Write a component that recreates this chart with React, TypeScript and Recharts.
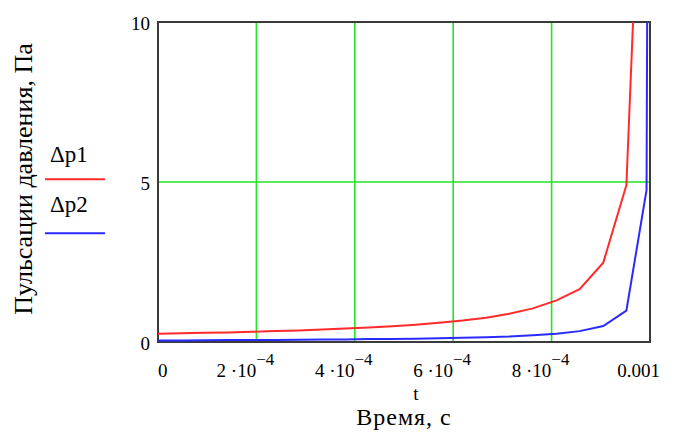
import React from 'react'
import {
  LineChart,
  Line,
  XAxis,
  YAxis,
  CartesianGrid,
  ReferenceArea,
  Legend,
  Label,
} from 'recharts'

const tP1 = [
  0, 0.0000476, 0.0000952, 0.000143, 0.00019, 0.000238, 0.000286, 0.000333,
  0.000381, 0.000429, 0.000476, 0.000524, 0.000571, 0.000619, 0.000667,
  0.000714, 0.000762, 0.00081, 0.000857, 0.000905, 0.000952, 0.001,
]
const p1 = [
  0.26, 0.27, 0.29, 0.3, 0.32, 0.34, 0.36, 0.39, 0.42, 0.45, 0.49, 0.54, 0.6,
  0.67, 0.76, 0.88, 1.05, 1.3, 1.65, 2.48, 4.9, 23,
]

const tP2 = [
  0, 0.0000476, 0.0000952, 0.000143, 0.00019, 0.000238, 0.000286, 0.000333,
  0.000381, 0.000429, 0.000476, 0.000524, 0.000571, 0.000619, 0.000667,
  0.000714, 0.000762, 0.00081, 0.000857, 0.000905, 0.000952, 0.000993, 0.001,
]
const p2 = [
  0.05, 0.05, 0.055, 0.06, 0.06, 0.065, 0.07, 0.075, 0.08, 0.09, 0.095, 0.105,
  0.115, 0.13, 0.15, 0.17, 0.21, 0.26, 0.34, 0.5, 0.98, 4.75, 35,
]

const xTicks = [0, 0.0002, 0.0004, 0.0006, 0.0008, 0.001]
const xTickBase = ['0', '2 ·10', '4 ·10', '6 ·10', '8 ·10', '0.001']
const xTickExp = ['', '−4', '−4', '−4', '−4', '']
const yTicks = [0, 5, 10]

const seriesNames = ['Δp1', 'Δp2']
const seriesColors = ['#ff2a2a', '#2a2aff']

const xTitle = 't'
const xSubtitle = 'Время, с'
const yTitle = 'Пульсации давления, Па'

const serif = { fontFamily: "'Liberation Serif', serif" }

const data1 = tP1.map((t, i) => ({ t, v: p1[i] }))
const data2 = tP2.map((t, i) => ({ t, v: p2[i] }))

function XTick({ x, y, payload }: any) {
  const i = xTicks.indexOf(payload.value)
  const last = i === xTicks.length - 1
  const anchor = i === 0 ? 'start' : last ? 'end' : 'middle'
  const tx = i === 0 ? x : last ? x + 10 : x - 11
  return (
    <text x={tx} y={y + 35} textAnchor={anchor} style={serif} fontSize={19} fill="#000">
      {xTickBase[i]}
      {xTickExp[i] && (
        <tspan dy={-12} fontSize={17}>
          {xTickExp[i]}
        </tspan>
      )}
    </text>
  )
}

function YTick({ x, y, payload }: any) {
  return (
    <text x={x - 8} y={y + 8} textAnchor="end" style={serif} fontSize={19} fill="#000">
      {payload.value}
    </text>
  )
}

function XTitle({ viewBox }: any) {
  const cx = viewBox.x + viewBox.width / 2
  return (
    <g fill="#000">
      <text x={cx + 12} y={viewBox.y + 58} textAnchor="middle" style={serif} fontSize={19}>
        {xTitle}
      </text>
      <text
        x={cx}
        y={viewBox.y + 83}
        textAnchor="middle"
        style={{ ...serif, letterSpacing: 1 }}
        fontSize={24}
      >
        {xSubtitle}
      </text>
    </g>
  )
}

function YTitle() {
  return (
    <text
      x={32}
      y={179}
      transform="rotate(-90 32 179)"
      textAnchor="middle"
      style={serif}
      fontSize={26}
      fill="#000"
    >
      {yTitle}
    </text>
  )
}

function LegendBox() {
  return (
    <svg width={80} height={110} style={{ display: 'block' }}>
      {seriesNames.map((name, i) => (
        <g key={name}>
          <text x={10} y={26.7 + i * 50.5} style={serif} fontSize={23} fill="#000">
            {name}
          </text>
          <line
            x1={5}
            x2={65}
            y1={44.3 + i * 54}
            y2={44.3 + i * 54}
            stroke={seriesColors[i]}
            strokeWidth={2}
          />
        </g>
      ))}
    </svg>
  )
}

export default function App() {
  return (
    <div style={{ position: 'absolute', left: 0, top: 0, width: 677, height: 432, background: '#fff' }}>
      <LineChart width={677} height={432} margin={{ top: 22, right: 27, bottom: 0, left: 0 }}>
        <CartesianGrid stroke="#22e622" strokeWidth={1.6} />
        <XAxis
          dataKey="t"
          type="number"
          domain={[0, 0.001]}
          ticks={xTicks}
          allowDataOverflow
          height={90}
          tickSize={0}
          tickMargin={0}
          axisLine={false}
          tick={<XTick />}
          interval={0}
        >
          <Label content={<XTitle />} />
        </XAxis>
        <YAxis
          type="number"
          domain={[0, 10]}
          ticks={yTicks}
          allowDataOverflow
          width={158}
          tickSize={0}
          tickMargin={0}
          axisLine={false}
          tick={<YTick />}
          interval={0}
        >
          <Label content={<YTitle />} />
        </YAxis>
        <Line
          data={data1}
          dataKey="v"
          name={seriesNames[0]}
          type="linear"
          stroke={seriesColors[0]}
          strokeWidth={2}
          dot={false}
          isAnimationActive={false}
        />
        <Line
          data={data2}
          dataKey="v"
          name={seriesNames[1]}
          type="linear"
          stroke={seriesColors[1]}
          strokeWidth={2}
          dot={false}
          isAnimationActive={false}
        />
        <ReferenceArea
          x1={0}
          x2={0.001}
          y1={0}
          y2={10}
          fill="none"
          stroke="#3a3a3a"
          strokeWidth={2}
          ifOverflow="visible"
        />
        <Legend
          layout="horizontal"
          verticalAlign="middle"
          align="center"
          content={<LegendBox />}
          wrapperStyle={{ left: 40, top: 135, width: 80, height: 110 }}
        />
      </LineChart>
    </div>
  )
}
